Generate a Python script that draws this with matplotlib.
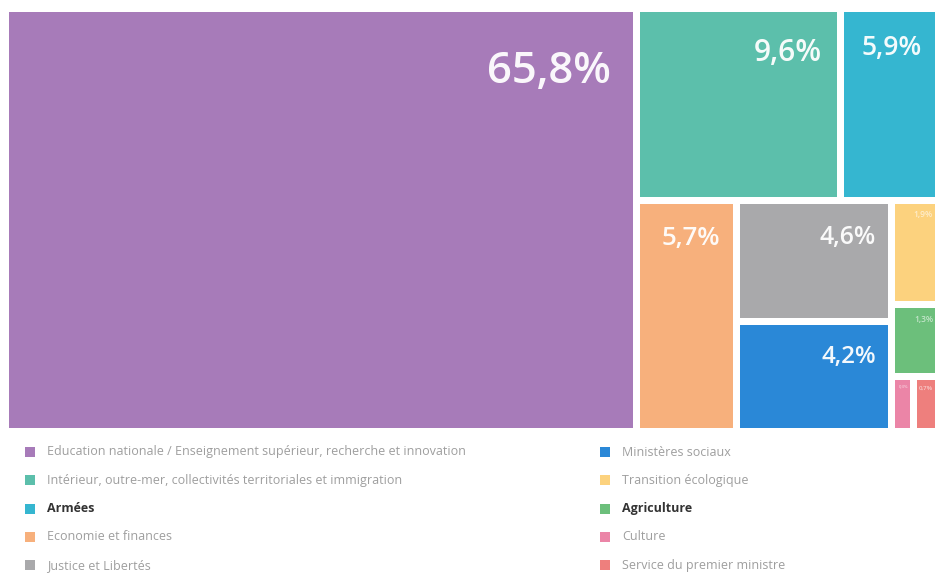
import numpy as np
import matplotlib
matplotlib.use("Agg")
import matplotlib.pyplot as plt
from matplotlib.patches import Rectangle

# share of each ministry (%)
names = [
    "Education nationale / Enseignement supérieur, recherche et innovation",
    "Intérieur, outre-mer, collectivités territoriales et immigration",
    "Armées",
    "Economie et finances",
    "Justice et Libertés",
    "Ministères sociaux",
    "Transition écologique",
    "Agriculture",
    "Culture",
    "Service du premier ministre",
]
shares = [65.8, 9.6, 5.9, 5.7, 4.6, 4.2, 1.9, 1.3, 0.3, 0.7]
colors = ["#A77BB9", "#5CBFAB", "#35B6D0", "#F7B07C", "#A9A9AB",
          "#2A88D7", "#FCD27E", "#6CBF7B", "#EB85A7", "#EE7F7D"]
highlighted = ["Armées", "Agriculture"]

# nesting of the treemap: slices alternate horizontal / vertical by depth
tree = [0, [[1, 2], [3, [4, 5], [6, 7, [8, 9]]]]]


def total(node):
    if isinstance(node, int):
        return shares[node]
    return sum(total(c) for c in node)


def layout(node, x, y, w, h, depth, out):
    if isinstance(node, int):
        out[node] = (x, y, w, h)
        return
    tot = total(node)
    for c in node:
        frac = total(c) / tot
        if depth % 2 == 0:
            layout(c, x, y, w * frac, h, depth + 1, out)
            x += w * frac
        else:
            layout(c, x, y, w, h * frac, depth + 1, out)
            y += h * frac


W, H = 935, 575
fig = plt.figure(figsize=(W / 100, H / 100), dpi=100)
ax = fig.add_axes([0, 0, 1, 1])
ax.set_xlim(0, W)
ax.set_ylim(H, 0)
ax.axis("off")

rects = {}
layout(tree, 5, 8.5, 960, 423, 0, rects)
gap = 3.5
for i, (x, y, w, h) in rects.items():
    x0, y0, bw, bh = x + gap, y + gap, w - 2 * gap, h - 2 * gap
    ax.add_patch(Rectangle((x0, y0), bw, bh, facecolor=colors[i], edgecolor="none"))
    small = bw < 70
    visible_w = min(x0 + bw, W) - x0
    fs = min(10 + 5.13 * np.log(shares[i]), 0.2 * bw)
    if small:
        fs = min(fs, 6, 0.25 * visible_w)
    fs_px = fs * 100 / 72
    label = f"{shares[i]:.1f}%".replace(".", ",")
    # keep the label inside the visible part of the box
    right = x0 + visible_w - (0.5 * fs_px if not small else 2)
    ax.text(right, y0 + 1.35 * fs_px, label, ha="right", va="center",
            fontsize=fs, color="white", family=["Open Sans", "DejaVu Sans"],
            weight="semibold", alpha=0.95 if not small else 0.6)

# legend in two columns
for i, name in enumerate(names):
    col, row = divmod(i, 5)
    lx = 25 + col * 575
    ly = 452 + row * 28.3
    ax.add_patch(Rectangle((lx, ly - 5), 10, 10, facecolor=colors[i], edgecolor="none"))
    bold = name in highlighted
    ax.text(lx + 22, ly, name, ha="left", va="center", fontsize=9,
            family=["Open Sans", "DejaVu Sans"],
            color="#333333" if bold else "#9E9E9E",
            weight="bold" if bold else "normal")

fig.savefig("out.png", dpi=100, facecolor="white")
